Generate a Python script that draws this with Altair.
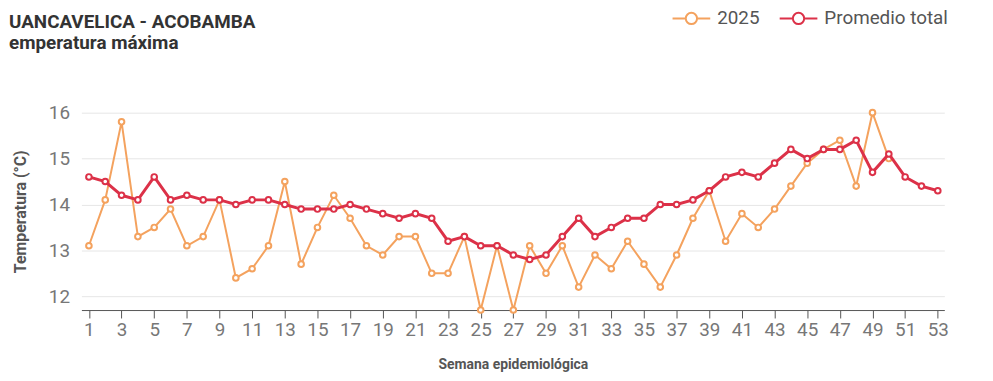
import altair as alt
import pandas as pd

weeks = list(range(1, 54))
temp_2025 = [13.1, 14.1, 15.8, 13.3, 13.5, 13.9, 13.1, 13.3, 14.1, 12.4,
             12.6, 13.1, 14.5, 12.7, 13.5, 14.2, 13.7, 13.1, 12.9, 13.3,
             13.3, 12.5, 12.5, 13.3, 11.7, 13.1, 11.7, 13.1, 12.5, 13.1,
             12.2, 12.9, 12.6, 13.2, 12.7, 12.2, 12.9, 13.7, 14.3, 13.2,
             13.8, 13.5, 13.9, 14.4, 14.9, 15.2, 15.4, 14.4, 16.0, 15.0,
             None, None, None]
temp_prom = [14.6, 14.5, 14.2, 14.1, 14.6, 14.1, 14.2, 14.1, 14.1, 14.0,
             14.1, 14.1, 14.0, 13.9, 13.9, 13.9, 14.0, 13.9, 13.8, 13.7,
             13.8, 13.7, 13.2, 13.3, 13.1, 13.1, 12.9, 12.8, 12.9, 13.3,
             13.7, 13.3, 13.5, 13.7, 13.7, 14.0, 14.0, 14.1, 14.3, 14.6,
             14.7, 14.6, 14.9, 15.2, 15.0, 15.2, 15.2, 15.4, 14.7, 15.1,
             14.6, 14.4, 14.3]
series_names = ["2025", "Promedio total"]
series_colors = ["#f4a25e", "#dc3148"]
x_ticks = list(range(1, 54, 2))
y_ticks = [12, 13, 14, 15, 16]
# title as visible in the reference (its left edge is cropped there)
title_lines = ["UANCAVELICA - ACOBAMBA", "emperatura máxima"]

rows = []
for name, vals in zip(series_names, [temp_2025, temp_prom]):
    for w, v in zip(weeks, vals):
        if v is not None:
            rows.append({"semana": w, "temp": v, "serie": name})
df = pd.DataFrame(rows)

FONT = "Roboto"

symbol_path = ("M-1,0H-0.3M0.3,0H1M-0.3,0A0.3,0.3 0 1,1 0.3,0"
               "A0.3,0.3 0 1,1 -0.3,0Z")

color = alt.Color(
    "serie:N",
    scale=alt.Scale(domain=series_names, range=series_colors),
    legend=alt.Legend(
        title=None, orient="none", direction="horizontal",
        legendX=595, legendY=-115,
        symbolType=symbol_path, symbolSize=1444, symbolStrokeWidth=2,
        symbolFillColor="white",
        labelFont=FONT, labelFontSize=19, labelColor="#555",
        labelOffset=6, columnPadding=16,
    ),
)

x = alt.X(
    "semana:Q",
    scale=alt.Scale(domain=[0.54, 53.4], nice=False, zero=False),
    axis=alt.Axis(
        values=x_ticks, title="Semana epidemiológica", grid=False,
        labelFont=FONT, labelFontSize=19, labelColor="#777",
        labelPadding=3, tickSize=8, tickColor="#555", domainColor="#555",
        titleFont=FONT, titleFontSize=14, titleFontWeight="bold",
        titleColor="#555", titlePadding=18,
    ),
)
y = alt.Y(
    "temp:Q",
    scale=alt.Scale(domain=[11.7, 16.0], nice=False, zero=False),
    axis=alt.Axis(
        values=y_ticks, title="Temperatura (°C)", grid=True,
        gridColor="#e6e6e6", domain=False, ticks=False,
        labelFont=FONT, labelFontSize=19, labelColor="#777",
        labelPadding=12,
        titleFont=FONT, titleFontSize=16, titleFontWeight="bold",
        titleColor="#555", titlePadding=20,
    ),
)

layers = []
for name, sw in zip(series_names, [2, 3]):
    base = alt.Chart(df).transform_filter(alt.datum.serie == name)
    layers.append(base.mark_line(strokeWidth=sw).encode(x=x, y=y, color=color))
    layers.append(base.mark_point(filled=False, fill="white", fillOpacity=1,
                                  size=32, strokeWidth=2, opacity=1)
                  .encode(x=x, y=y, color=color))

one = pd.DataFrame({"k": [0]})
for line, ypos in zip(title_lines, [-85, -64]):
    layers.append(
        alt.Chart(one).mark_text(align="left", baseline="alphabetic",
                                 font=FONT, fontSize=19, fontWeight="bold",
                                 color="#333")
        .encode(x=alt.value(-73), y=alt.value(ypos), text=alt.value(line))
    )

chart = alt.layer(*layers).properties(
    width=870, height=199,
    autosize=alt.AutoSizeParams(type="none"),
    padding={"left": 74, "top": 104, "right": 41, "bottom": 69},
).configure_view(stroke=None)

chart.save("out.html", embed_options={"renderer": "svg", "actions": False})
